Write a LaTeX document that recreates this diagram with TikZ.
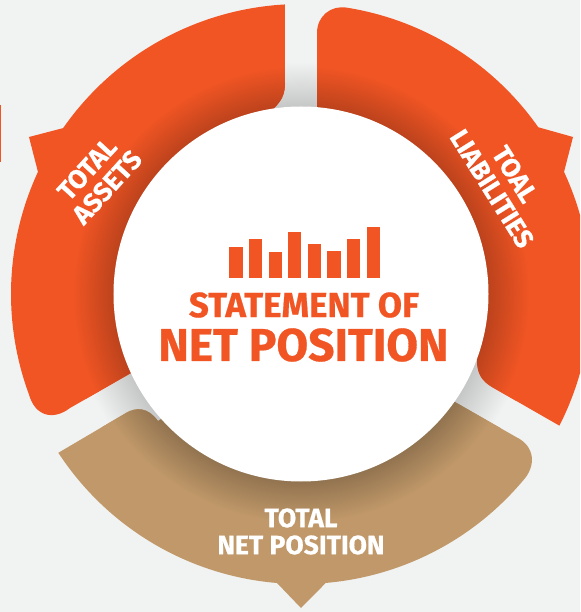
\documentclass[tikz,border=0pt]{standalone}
\usepackage{fontspec}
\setmainfont[BoldFeatures={FakeBold=0.6}]{Fira Sans}
\definecolor{SegOrange}{HTML}{F15524}
\definecolor{SegTan}{HTML}{C09869}
\definecolor{PaperGrey}{HTML}{F1F2F2}
\pgfdeclareradialshading{orangeglow}{\pgfpoint{0bp}{0bp}}{color(0bp)=(SegOrange!78!black); color(19.5bp)=(SegOrange!78!black); color(23.8bp)=(SegOrange); color(50bp)=(SegOrange)}
\pgfdeclareradialshading{tanglow}{\pgfpoint{0bp}{0bp}}{color(0bp)=(SegTan!76!black); color(19.5bp)=(SegTan!76!black); color(23.8bp)=(SegTan); color(50bp)=(SegTan)}
\pgfdeclareradialshading{paperglow}{\pgfpoint{0bp}{0bp}}{color(0bp)=(PaperGrey!82!black); color(20.2bp)=(PaperGrey!82!black); color(25bp)=(PaperGrey); color(50bp)=(PaperGrey)}
\newcommand{\AssetsSeg}{(93.2:290) arc (93.2:145.1:290) -- (-272,157) -- (155.1:290)
  arc (155.1:200.3:290) .. controls (-266,-122) and (-248,-127) .. (-231,-114)
  -- (-170,-79) -- (-60,150) -- (-34,180)
  .. controls (-24,188) and (-16,195) .. (-16,210) -- cycle}
\newcommand{\LiabilitiesSeg}{(16,150) -- (16,261) .. controls (16,278) and (30,289) .. (80.9:290)
  arc (80.9:35.1:290) -- (272,157) -- (24.9:290) arc (24.9:-27:290)
  -- (191,-93) .. controls (181,-87) and (176,-80) .. (176,-66) -- (150,0) -- cycle}
\newcommand{\NetSeg}{(213.2:290) arc (213.2:265.25:290) -- (0,-314) -- (274.9:290)
  arc (274.9:319.7:290) .. controls (236,-172) and (234,-152) .. (215,-143)
  -- (154,-108) -- (100,-100) -- (-100,-100) -- (-143,-127)
  .. controls (-153,-113) and (-165,-113) .. (-175,-119) -- cycle}
\tikzset{
  seglabel/.style={text=white,align=center,inner sep=0pt,font=\bfseries\fontsize{26.5}{27}\selectfont},
  titlelabel/.style={text=SegOrange,inner sep=0pt,font=\bfseries}
}
\begin{document}
\begin{tikzpicture}[line cap=round,line join=round,x=1pt,y=1pt]
  \useasboundingbox (-301,-318) rectangle (279,294);
  \clip (-301,-318) rectangle (279,294);
  \fill[PaperGrey] (-301,-318) rectangle (279,294);
  \fill[SegOrange] (-301,189) rectangle (-300,132);
  \shade[shading=paperglow] (0,0) circle (232);
  \fill[SegOrange] \AssetsSeg;
  \begin{scope}
    \clip \AssetsSeg;
    \shade[shading=orangeglow] (0,0) circle (240);
  \end{scope}
  \fill[SegOrange] \LiabilitiesSeg;
  \begin{scope}
    \clip \LiabilitiesSeg;
    \shade[shading=orangeglow] (0,0) circle (240);
  \end{scope}
  \fill[SegTan] \NetSeg;
  \begin{scope}
    \clip \NetSeg;
    \shade[shading=tanglow] (0,0) circle (240);
  \end{scope}
  \fill[white] (0,0) circle (187.5);
  \foreach \i/\h in {0/31,1/38.7,2/26,3/46,4/33.4,5/26.4,6/38.7,7/50.4}
  \fill[SegOrange] ({-71.7+19.6*\i},16.3) rectangle ({-58.4+19.6*\i},16.3+\h);
  \node[titlelabel,font=\bfseries\fontsize{35}{35}\selectfont] (statement) at (3,-11) {STATEMENT OF};
  \node[titlelabel,font=\bfseries\fontsize{46}{46}\selectfont] (netposition) at (2.5,-51) {NET POSITION};
  \node[seglabel,rotate=47.6] (assets) at (-204,116) {TOTAL\\[0pt]ASSETS};
  \node[seglabel,rotate=-58] (liabilities) at (202.5,112.5) {TOAL\\[0pt]LIABILITIES};
  \node[seglabel] (netlabel) at (0,-237.5) {TOTAL\\[0pt]NET POSITION};
\end{tikzpicture}
\end{document}
